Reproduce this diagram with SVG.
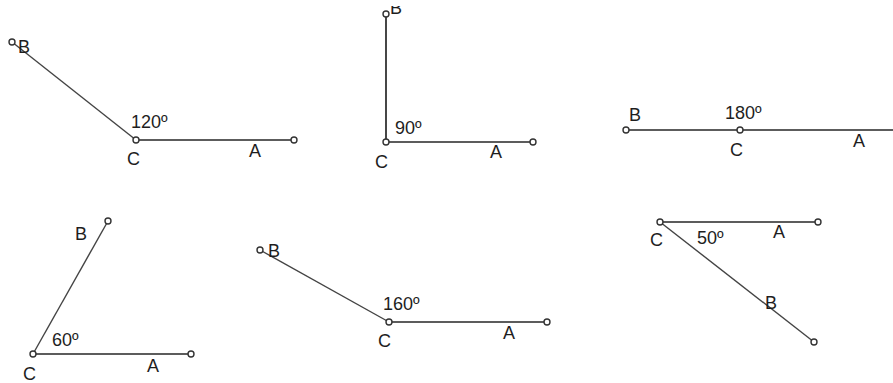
<svg xmlns="http://www.w3.org/2000/svg" width="893" height="383" viewBox="0 0 893 383">
<style>
.ray{stroke:#262626;stroke-width:1.7;fill:none}
.diag{stroke:#444;stroke-width:1.4;fill:none}
.pt{fill:#fff;stroke:#333;stroke-width:1.4}
text{font-family:"Liberation Sans",Arial,sans-serif;font-size:18px;fill:#1e1e1e}
</style>
<defs>
<clipPath id="topclip"><rect x="0" y="6" width="893" height="377"/></clipPath>
</defs>
<rect width="893" height="383" fill="#fff"/>
<g id="connectors">
<line class="diag" x1="12" y1="42" x2="136" y2="140"/>
<line class="ray" x1="136" y1="140" x2="294" y2="140"/>
<line class="ray" x1="386" y1="14" x2="386" y2="142"/>
<line class="ray" x1="386" y1="142" x2="533" y2="142"/>
<line class="ray" x1="626" y1="130" x2="893" y2="130"/>
<line class="diag" x1="108" y1="221" x2="33" y2="354"/>
<line class="ray" x1="33" y1="354" x2="191" y2="354"/>
<line class="diag" x1="260" y1="250" x2="389" y2="322"/>
<line class="ray" x1="389" y1="322" x2="547" y2="322"/>
<line class="ray" x1="660" y1="222" x2="818" y2="222"/>
<line class="diag" x1="660" y1="222" x2="814" y2="342"/>
</g>
<g id="angle120">
<circle class="pt" cx="12" cy="42" r="3"/>
<circle class="pt" cx="136" cy="140" r="3"/>
<circle class="pt" cx="294" cy="140" r="3"/>
<text x="18" y="53">B</text>
<text x="131" y="128">120º</text>
<text x="127" y="165">C</text>
<text x="249" y="157">A</text>
</g>
<g id="angle90">
<circle class="pt" cx="386" cy="14" r="3"/>
<circle class="pt" cx="386" cy="142" r="3"/>
<circle class="pt" cx="533" cy="142" r="3"/>
<text x="390" y="14" clip-path="url(#topclip)">B</text>
<text x="395" y="134">90º</text>
<text x="375" y="168">C</text>
<text x="490" y="158">A</text>
</g>
<g id="angle180">
<circle class="pt" cx="626" cy="130" r="3"/>
<circle class="pt" cx="740" cy="130" r="3"/>
<text x="629" y="121">B</text>
<text x="725" y="119">180º</text>
<text x="730" y="156">C</text>
<text x="853" y="147">A</text>
</g>
<g id="angle60">
<circle class="pt" cx="108" cy="221" r="3"/>
<circle class="pt" cx="33" cy="354" r="3"/>
<circle class="pt" cx="191" cy="354" r="3"/>
<text x="75" y="240">B</text>
<text x="52" y="346">60º</text>
<text x="23" y="380">C</text>
<text x="147" y="372">A</text>
</g>
<g id="angle160">
<circle class="pt" cx="260" cy="250" r="3"/>
<circle class="pt" cx="389" cy="322" r="3"/>
<circle class="pt" cx="547" cy="322" r="3"/>
<text x="268" y="257">B</text>
<text x="383" y="310">160º</text>
<text x="378" y="347">C</text>
<text x="503" y="339">A</text>
</g>
<g id="angle50">
<circle class="pt" cx="660" cy="222" r="3"/>
<circle class="pt" cx="818" cy="222" r="3"/>
<circle class="pt" cx="814" cy="342" r="3"/>
<text x="650" y="246">C</text>
<text x="697" y="244">50º</text>
<text x="773" y="238">A</text>
<text x="765" y="309">B</text>
</g>
</svg>
